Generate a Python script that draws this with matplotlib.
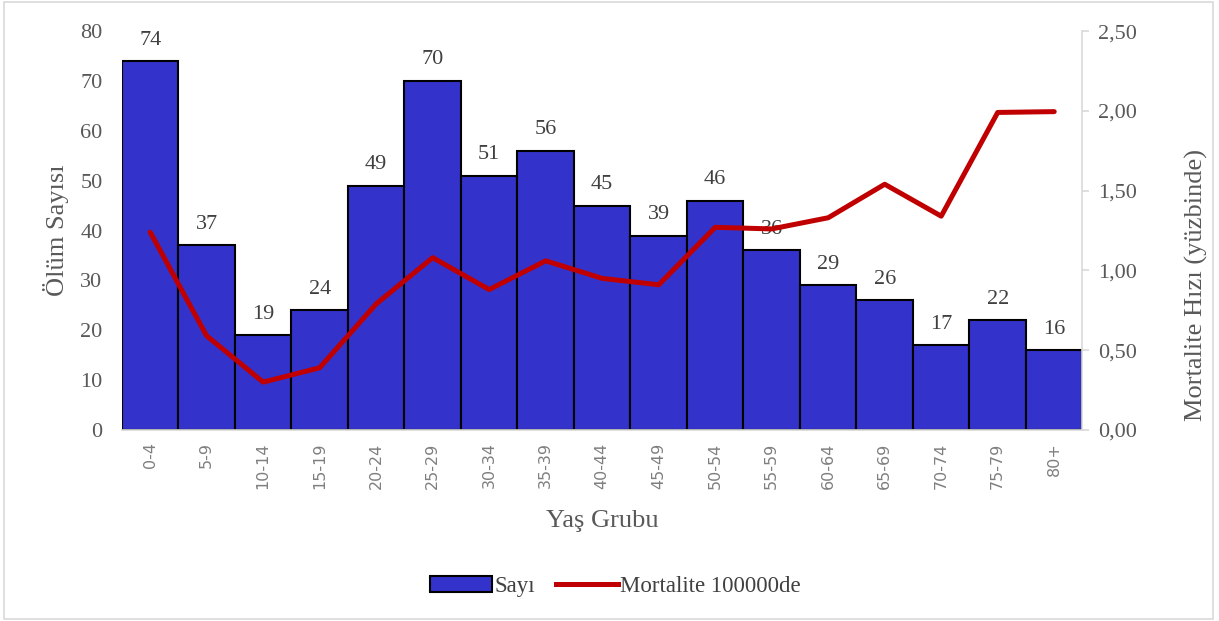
import matplotlib.pyplot as plt
from matplotlib.patches import Rectangle
from matplotlib.lines import Line2D
from matplotlib.ticker import FuncFormatter

plt.rcParams["font.family"] = ["Liberation Serif", "DejaVu Serif"]

# Data
age_groups = ["0-4", "5-9", "10-14", "15-19", "20-24", "25-29", "30-34", "35-39",
              "40-44", "45-49", "50-54", "55-59", "60-64", "65-69", "70-74", "75-79", "80+"]
deaths = [74, 37, 19, 24, 49, 70, 51, 56, 45, 39, 46, 36, 29, 26, 17, 22, 16]
mortality = [1.24, 0.59, 0.30, 0.39, 0.79, 1.08, 0.88, 1.06, 0.95, 0.91,
             1.27, 1.26, 1.33, 1.54, 1.34, 1.99, 1.995]

gray = "#595959"

fig = plt.figure(figsize=(12.19, 6.21), dpi=100)
ax = fig.add_axes([0.100, 0.3076, 0.788, 0.6424])
x = list(range(len(age_groups)))

ax.bar(x, deaths, width=1.0, color="#3333CC", edgecolor="black", linewidth=1.5, zorder=2)
for xi, v in zip(x, deaths):
    ax.text(xi, v + 4.2, str(v), ha="center", va="center", fontsize=16, color="#404040", zorder=3)

ax.set_xlim(-0.5, len(age_groups) - 0.5)
ax.set_ylim(0, 80)
ax.set_yticks(range(0, 81, 10))
ax.set_xticks(x)
ax.set_xticklabels(age_groups, rotation=90, fontsize=11.5, color="#7F7F7F", family="DejaVu Sans")
ax.tick_params(axis="y", labelsize=16, labelcolor=gray, length=0, pad=14)
ax.tick_params(axis="x", length=0, pad=9)
for s in ["top", "right", "left"]:
    ax.spines[s].set_visible(False)
ax.spines["bottom"].set_color("#D9D9D9")
ax.spines["bottom"].set_linewidth(1.2)
ax.set_ylabel("Ölüm Sayısı", fontsize=19, color=gray, labelpad=8)
ax.set_xlabel("Yaş Grubu", fontsize=19, color=gray, labelpad=15)

ax2 = ax.twinx()
ax2.plot(x, mortality, color="#C00000", linewidth=3.6, solid_capstyle="round", zorder=4)
ax2.set_ylim(0, 2.5)
ax2.set_yticks([0, 0.5, 1.0, 1.5, 2.0, 2.5])
ax2.yaxis.set_major_formatter(FuncFormatter(lambda v, p: f"{v:.2f}".replace(".", ",")))
ax2.tick_params(axis="y", labelsize=16, labelcolor=gray, color="#D9D9D9", length=5, width=1.2, pad=6)
for s in ["top", "left", "bottom"]:
    ax2.spines[s].set_visible(False)
ax2.spines["right"].set_color("#D9D9D9")
ax2.spines["right"].set_linewidth(1.2)
ax2.set_ylabel("Mortalite Hızı (yüzbinde)", fontsize=19, color=gray)
ax2.yaxis.set_label_coords(1.107, 0.363)

handles = [Rectangle((0, 0), 1, 1, facecolor="#3333CC", edgecolor="black", linewidth=1.5),
           Line2D([0], [0], color="#C00000", linewidth=3.6)]
fig.legend(handles, ["Sayı", "Mortalite 100000de"], loc="center", bbox_to_anchor=(0.505, 0.056),
           ncol=2, frameon=False, fontsize=16.5, labelcolor="#404040", handlelength=2.7,
           handletextpad=0.1, columnspacing=0.9)

fig.patches.append(Rectangle((0.003, 0.004), 0.992, 0.992, transform=fig.transFigure,
                             fill=False, edgecolor="#D9D9D9", linewidth=1.2))

fig.savefig("out.png", dpi=100)
